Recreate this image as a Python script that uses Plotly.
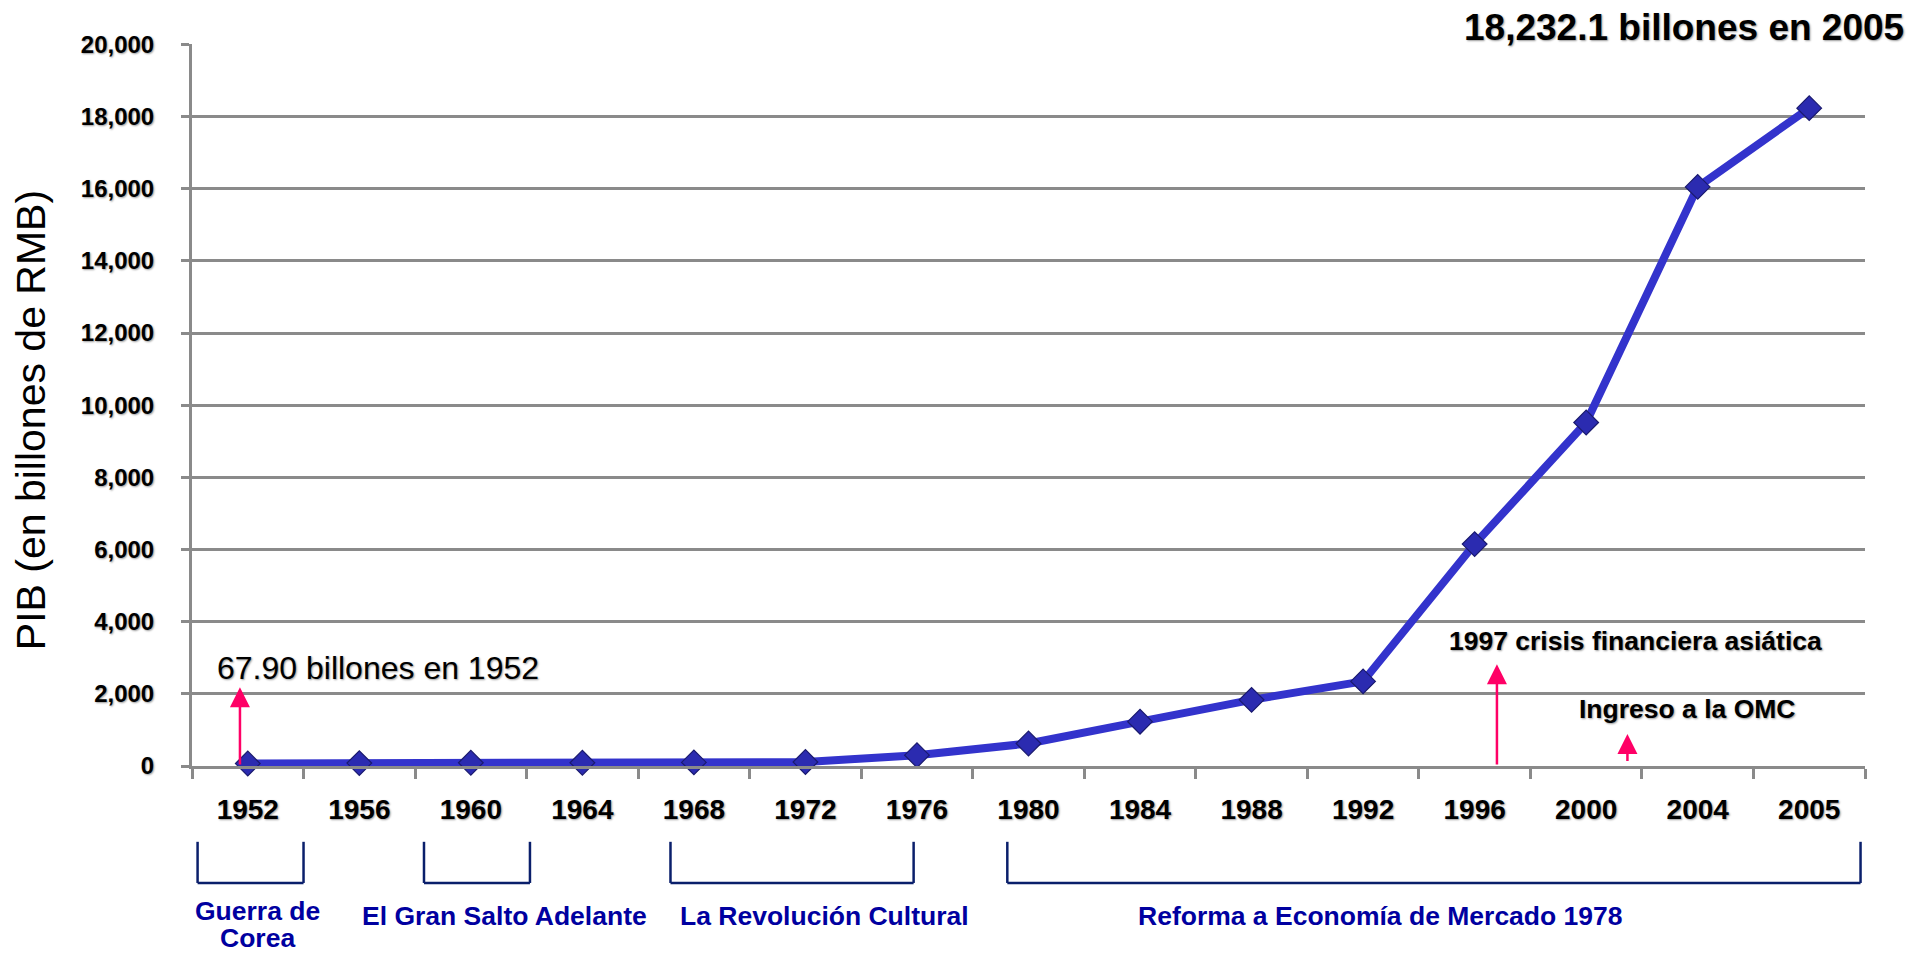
import plotly.graph_objects as go

# ---- data ----
years = ["1952", "1956", "1960", "1964", "1968", "1972", "1976", "1980",
         "1984", "1988", "1992", "1996", "2000", "2004", "2005"]
gdp = [67.9, 80, 90, 90, 100, 110, 300, 623, 1228, 1833, 2344, 6150, 9520, 16050, 18232.1]
y_ticks = [0, 2000, 4000, 6000, 8000, 10000, 12000, 14000, 16000, 18000, 20000]
y_tick_text = ["0", "2,000", "4,000", "6,000", "8,000", "10,000", "12,000",
               "14,000", "16,000", "18,000", "20,000"]

# eras: (bracket start index, bracket end index)
era_brackets = [(-0.45, 0.50), (1.58, 2.53), (3.79, 5.97), (6.81, 14.46)]
# era labels: (text, x index, y paper)
era_labels = [
    ("Guerra de", 0.09, -0.2015),
    ("Corea", 0.09, -0.2385),
    ("El Gran Salto Adelante", 2.30, -0.208),
    ("La Revolución Cultural", 5.17, -0.208),
    ("Reforma a Economía de Mercado 1978", 10.16, -0.208),
]

# event arrows: (x index, tail value, tip value)
arrows = [(-0.07, 0, 2185), (11.20, 0, 2820), (12.37, 100, 885)]

FONT = "Liberation Sans, Arial, sans-serif"
GRID = "#8a8a8a"
SHADOW = "1px 1px 2px #9a9a9a"

fig = go.Figure()
fig.add_trace(go.Scatter(
    x=years, y=gdp, mode="lines+markers",
    line=dict(color="#3333CC", width=8),
    marker=dict(symbol="diamond", size=19, color="#2B2BB0",
                line=dict(color="#1A1A6E", width=1.2)),
    cliponaxis=False, showlegend=False,
))

shapes = []
for x0, x1 in era_brackets:
    for (a, b, c, d) in [(x0, -0.105, x0, -0.162), (x0, -0.162, x1, -0.162), (x1, -0.162, x1, -0.105)]:
        shapes.append(dict(type="line", xref="x", yref="paper", x0=a, y0=b, x1=c, y1=d,
                           line=dict(color="#0A1F6B", width=2.5)))

annotations = []
for label, lx, ly in era_labels:
    annotations.append(dict(text=label, xref="x", yref="paper", x=lx, y=ly,
                            showarrow=False, xanchor="center", yanchor="middle",
                            font=dict(family=FONT, size=26.5, color="#0000A0", weight="bold")))

for xi, tail, tip in arrows:
    annotations.append(dict(text="", xref="x", yref="y", x=xi, y=tip,
                            axref="x", ayref="y", ax=xi, ay=tail,
                            showarrow=True, arrowhead=2, arrowsize=1.6, arrowwidth=2.5,
                            arrowcolor="#FF0066", standoff=0, startstandoff=0))

annotations += [
    dict(text="67.90 billones en 1952", xref="x", yref="y", x=-0.29, y=2711,
         showarrow=False, xanchor="left", yanchor="middle",
         font=dict(family=FONT, size=32, color="#000000", shadow=SHADOW)),
    dict(text="1997 crisis financiera asiática", xref="x", yref="y", x=12.44, y=3458,
         showarrow=False, xanchor="center", yanchor="middle",
         font=dict(family=FONT, size=26.5, color="#000000", weight="bold", shadow=SHADOW)),
    dict(text="Ingreso a la OMC", xref="x", yref="y", x=12.90, y=1577,
         showarrow=False, xanchor="center", yanchor="middle",
         font=dict(family=FONT, size=26.5, color="#000000", weight="bold", shadow=SHADOW)),
    dict(text="18,232.1 billones en 2005", xref="paper", yref="paper", x=1.0247, y=1.0235,
         showarrow=False, xanchor="right", yanchor="middle",
         font=dict(family=FONT, size=37, color="#000000", weight="bold", shadow=SHADOW)),
    dict(text="PIB (en billones de RMB)", xref="paper", yref="paper", x=-0.0962, y=0.479,
         showarrow=False, textangle=-90, xanchor="center", yanchor="middle",
         font=dict(family=FONT, size=41, color="#000000")),
]

fig.update_layout(
    width=1913, height=947,
    margin=dict(l=184, r=56, t=36, b=189, autoexpand=False),
    paper_bgcolor="white", plot_bgcolor="white",
    shapes=shapes, annotations=annotations,
    xaxis=dict(type="category", categoryorder="array", categoryarray=years,
               range=[-0.5, 14.5], showgrid=False, showline=True, linecolor=GRID, linewidth=3,
               ticks="outside", tickson="boundaries", ticklen=10, tickwidth=3, tickcolor=GRID,
               ticklabelstandoff=16,
               tickfont=dict(family=FONT, size=28, color="#000000", weight="bold", shadow=SHADOW)),
    yaxis=dict(range=[0, 20010], tickvals=y_ticks, ticktext=y_tick_text,
               showgrid=True, gridcolor=GRID, gridwidth=3,
               zeroline=True, zerolinecolor=GRID, zerolinewidth=3,
               showline=True, linecolor=GRID, linewidth=3,
               ticks="outside", ticklen=8, tickwidth=3, tickcolor=GRID,
               ticklabelstandoff=22,
               tickfont=dict(family=FONT, size=24, color="#000000", weight="bold", shadow=SHADOW)),
)

fig.write_html("out.html")
